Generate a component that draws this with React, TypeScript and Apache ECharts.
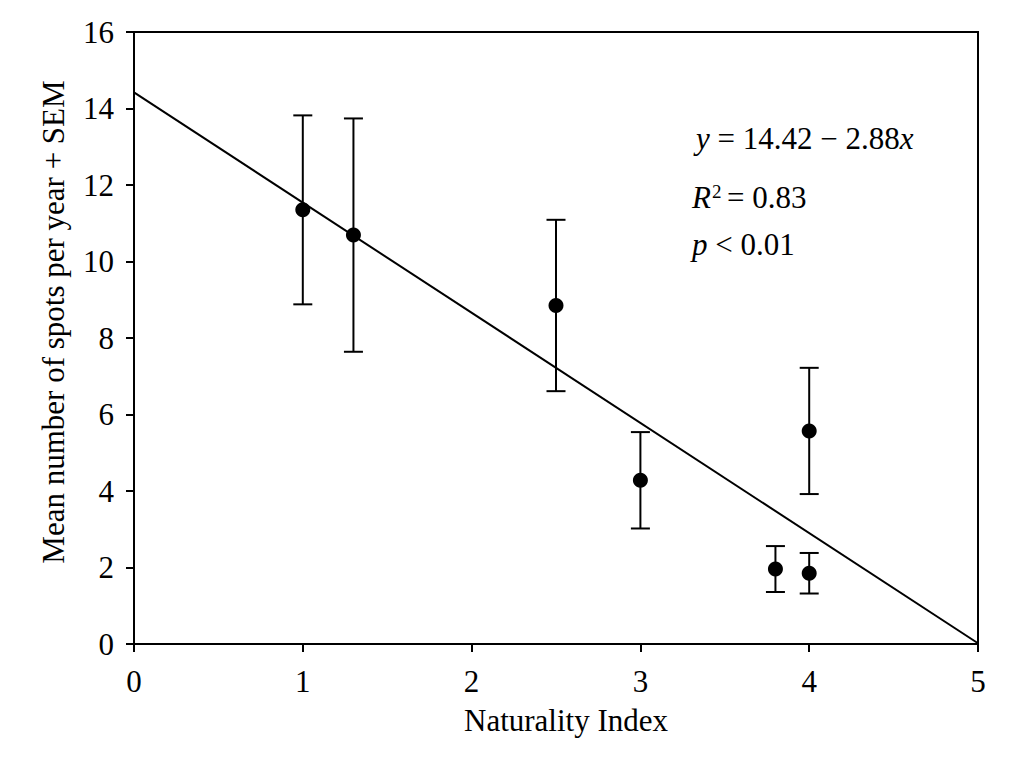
import React, { useEffect, useRef } from "react";
import * as echarts from "echarts";

const naturality = [1, 1.3, 2.5, 3, 3.8, 4, 4];
const meanSpots = [11.35, 10.69, 8.85, 4.28, 1.96, 1.85, 5.57];
const sem = [2.47, 3.05, 2.24, 1.26, 0.6, 0.53, 1.65];
const fitX = [0, 5];
const fitY = [14.42, 0.02];
const xTicks = [0, 1, 2, 3, 4, 5];
const yTicks = [0, 2, 4, 6, 8, 10, 12, 14, 16];
const xTitle = "Naturality Index";
const yTitle = "Mean number of spots per year + SEM";

const FONT = "'Liberation Serif', 'Times New Roman', serif";
const FS = 31;

export default function App() {
  const ref = useRef<HTMLDivElement>(null);
  useEffect(() => {
    if (!ref.current) return;
    const chart = echarts.init(ref.current, undefined, { renderer: "svg" });
    const errData = naturality.map((x, i) => [x, meanSpots[i] - sem[i], meanSpots[i] + sem[i]]);
    const option: any = {
      animation: false,
      backgroundColor: "#fff",
      grid: {
        left: 134,
        right: 46,
        top: 32,
        bottom: 129,
        show: true,
        borderColor: "#000",
        borderWidth: 2,
        backgroundColor: "transparent",
      },
      xAxis: {
        type: "value",
        min: xTicks[0],
        max: xTicks[xTicks.length - 1],
        interval: 1,
        axisLine: { show: true, onZero: false, lineStyle: { color: "#000", width: 2 } },
        axisTick: { show: true, length: 8, lineStyle: { color: "#000", width: 2 } },
        axisLabel: { fontFamily: FONT, fontSize: FS, color: "#000", margin: 22 },
        splitLine: { show: false },
      },
      yAxis: {
        type: "value",
        min: yTicks[0],
        max: yTicks[yTicks.length - 1],
        interval: 2,
        axisLine: { show: true, lineStyle: { color: "#000", width: 2 } },
        axisTick: { show: true, length: 8, lineStyle: { color: "#000", width: 2 } },
        axisLabel: { fontFamily: FONT, fontSize: FS, color: "#000", margin: 20 },
        splitLine: { show: false },
      },
      series: [
        {
          type: "line",
          data: fitX.map((x, i) => [x, fitY[i]]),
          symbol: "none",
          lineStyle: { color: "#000", width: 2 },
          z: 2,
        },
        {
          type: "custom",
          data: errData,
          z: 3,
          renderItem: (params: any, api: any) => {
            const x = api.value(0);
            const lo = api.coord([x, api.value(1)]);
            const hi = api.coord([x, api.value(2)]);
            const hw = 9.5;
            const style = { stroke: "#000", lineWidth: 2 };
            return {
              type: "group",
              children: [
                { type: "line", shape: { x1: lo[0], y1: lo[1], x2: hi[0], y2: hi[1] }, style },
                { type: "line", shape: { x1: lo[0] - hw, y1: lo[1], x2: lo[0] + hw, y2: lo[1] }, style },
                { type: "line", shape: { x1: hi[0] - hw, y1: hi[1], x2: hi[0] + hw, y2: hi[1] }, style },
              ],
            };
          },
        },
        {
          type: "scatter",
          data: naturality.map((x, i) => [x, meanSpots[i]]),
          symbol: "circle",
          symbolSize: 15,
          itemStyle: { color: "#000", opacity: 1 },
          z: 4,
        },
      ],
      graphic: [
        {
          type: "text",
          x: 566,
          y: 720,
          style: {
            text: xTitle,
            font: `${FS}px ${FONT}`,
            fill: "#000",
            align: "center",
            verticalAlign: "middle",
          },
        },
        {
          type: "text",
          x: 53,
          y: 322,
          rotation: Math.PI / 2,
          style: {
            text: yTitle,
            font: `${FS}px ${FONT}`,
            fill: "#000",
            align: "center",
            verticalAlign: "middle",
          },
        },
        {
          type: "text",
          x: 696,
          y: 138,
          style: {
            text: "{i|y} = 14.42 − 2.88{i|x}",
            font: `${FS}px ${FONT}`,
            fill: "#000",
            verticalAlign: "middle",
            rich: { i: { fontStyle: "italic", fontFamily: FONT, fontSize: FS, fill: "#000" } },
          },
        },
        {
          type: "text",
          x: 692,
          y: 197,
          style: { text: "R", font: `italic ${FS}px ${FONT}`, fill: "#000", verticalAlign: "middle" },
        },
        {
          type: "text",
          x: 712,
          y: 191,
          style: { text: "2", font: `19px ${FONT}`, fill: "#000", verticalAlign: "middle" },
        },
        {
          type: "text",
          x: 727,
          y: 197,
          style: { text: "= 0.83", font: `${FS}px ${FONT}`, fill: "#000", verticalAlign: "middle" },
        },
        {
          type: "text",
          x: 692,
          y: 244,
          style: {
            text: "{i|p} < 0.01",
            font: `${FS}px ${FONT}`,
            fill: "#000",
            verticalAlign: "middle",
            rich: { i: { fontStyle: "italic", fontFamily: FONT, fontSize: FS, fill: "#000" } },
          },
        },
      ],
    };
    chart.setOption(option);
    return () => chart.dispose();
  }, []);
  return (
    <div
      ref={ref}
      style={{ position: "fixed", left: 0, top: 0, width: 1024, height: 773, background: "#fff" }}
    />
  );
}
